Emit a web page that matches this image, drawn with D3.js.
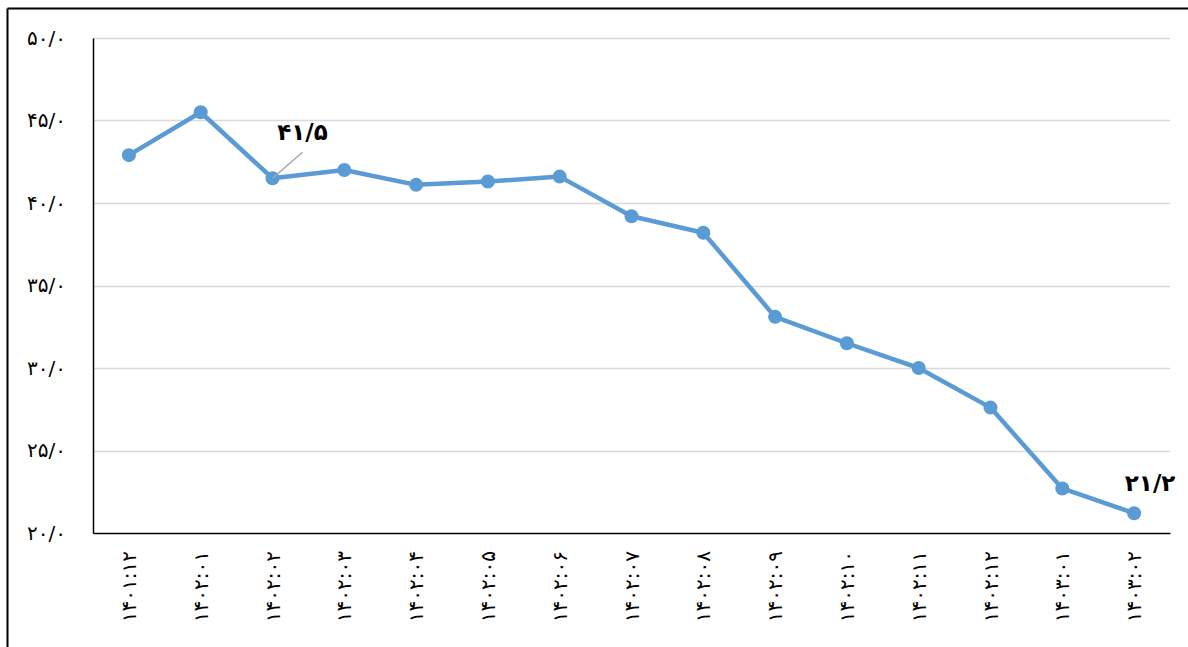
<!DOCTYPE html>
<html>
<head>
<meta charset="utf-8">
<script src="https://cdn.jsdelivr.net/npm/d3@7"></script>
<style>
  html, body { margin: 0; padding: 0; background: #fff; }
  svg { display: block; }
  text { font-family: "DejaVu Sans", sans-serif; fill: #000; }
</style>
</head>
<body>
<svg id="chart" width="1188" height="647"></svg>
<script>
// Monthly periods (Persian calendar)
const categories = [
  "۱۴۰۱:۱۲", "۱۴۰۲:۰۱", "۱۴۰۲:۰۲", "۱۴۰۲:۰۳", "۱۴۰۲:۰۴",
  "۱۴۰۲:۰۵", "۱۴۰۲:۰۶", "۱۴۰۲:۰۷", "۱۴۰۲:۰۸", "۱۴۰۲:۰۹",
  "۱۴۰۲:۱۰", "۱۴۰۲:۱۱", "۱۴۰۲:۱۲", "۱۴۰۳:۰۱", "۱۴۰۳:۰۲"
];
const values = [42.9, 45.5, 41.5, 42.0, 41.1, 41.3, 41.6, 39.2, 38.2, 33.1, 31.5, 30.0, 27.6, 22.7, 21.2];
const yTicks = [20, 25, 30, 35, 40, 45, 50];
const yTickLabels = ["۲۰/۰", "۲۵/۰", "۳۰/۰", "۳۵/۰", "۴۰/۰", "۴۵/۰", "۵۰/۰"];
// Points that carry a value label, with their label text
const labelled = [
  { index: 2, text: "۴۱/۵" },
  { index: 14, text: "۲۱/۲" }
];

const svg = d3.select("#chart");
const margin = { left: 93, right: 18, top: 38, bottom: 114 };
const W = 1188, H = 647;

// outer frame (clipped on the right and bottom)
svg.append("line").attr("x1", 7.5).attr("x2", W).attr("y1", 8.5).attr("y2", 8.5)
  .attr("stroke", "#000").attr("stroke-width", 2);
svg.append("line").attr("x1", 7.5).attr("x2", 7.5).attr("y1", 8.5).attr("y2", H)
  .attr("stroke", "#000").attr("stroke-width", 2);

const x = d3.scaleBand().domain(categories)
  .range([margin.left, W - margin.right]);
const y = d3.scaleLinear().domain([20, 50])
  .range([H - margin.bottom, margin.top]);

// horizontal gridlines
svg.append("g").selectAll("line").data(yTicks.filter(d => d > 20)).join("line")
  .attr("x1", margin.left).attr("x2", W - margin.right)
  .attr("y1", d => Math.round(y(d)) + 0.5).attr("y2", d => Math.round(y(d)) + 0.5)
  .attr("stroke", "#d9d9d9").attr("stroke-width", 1.5);

// y axis
const yAxis = svg.append("g")
  .attr("transform", `translate(${margin.left},0)`)
  .call(d3.axisLeft(y).tickValues(yTicks).tickSize(0).tickPadding(27)
    .tickFormat((d, i) => yTickLabels[i]));
yAxis.select(".domain").attr("stroke", "#000").attr("stroke-width", 1.5);
yAxis.selectAll("text").attr("font-size", 20).attr("font-family", "DejaVu Sans")
  .attr("letter-spacing", 1);

// x axis
const xAxis = svg.append("g")
  .attr("transform", `translate(0,${H - margin.bottom})`)
  .call(d3.axisBottom(x).tickSize(0).tickPadding(0));
xAxis.select(".domain").attr("stroke", "#000").attr("stroke-width", 1.5);
xAxis.selectAll("text")
  .attr("font-size", 20).attr("font-family", "DejaVu Sans")
  .attr("letter-spacing", 1.2)
  .attr("text-anchor", "end")
  .attr("transform", "translate(0,18) rotate(-90)")
  .attr("dx", 0).attr("dy", "0.35em").attr("y", 0).attr("x", 0);

// series line
const cx = d => x(d) + x.bandwidth() / 2;
const line = d3.line().x((d, i) => cx(categories[i])).y(d => y(d));
svg.append("path").datum(values)
  .attr("d", line).attr("fill", "none")
  .attr("stroke", "#5b9bd5").attr("stroke-width", 4.5)
  .attr("stroke-linejoin", "round");

svg.append("g").selectAll("circle").data(values).join("circle")
  .attr("cx", (d, i) => cx(categories[i]))
  .attr("cy", d => y(d))
  .attr("r", 7).attr("fill", "#5b9bd5");

// value labels
const first = labelled[0];
const px = cx(categories[first.index]), py = y(values[first.index]);
svg.append("line")
  .attr("x1", px).attr("y1", py).attr("x2", px + 30).attr("y2", py - 26)
  .attr("stroke", "#a6a6a6").attr("stroke-width", 1.5);
svg.append("text").attr("x", px + 30).attr("y", py - 38)
  .attr("text-anchor", "middle").attr("font-size", 23).attr("font-weight", "bold")
  .text(first.text);

const last = labelled[1];
svg.append("text")
  .attr("x", cx(categories[last.index]) + 16)
  .attr("y", y(values[last.index]) - 22)
  .attr("text-anchor", "middle").attr("font-size", 23).attr("font-weight", "bold")
  .text(last.text);
</script>
</body>
</html>
